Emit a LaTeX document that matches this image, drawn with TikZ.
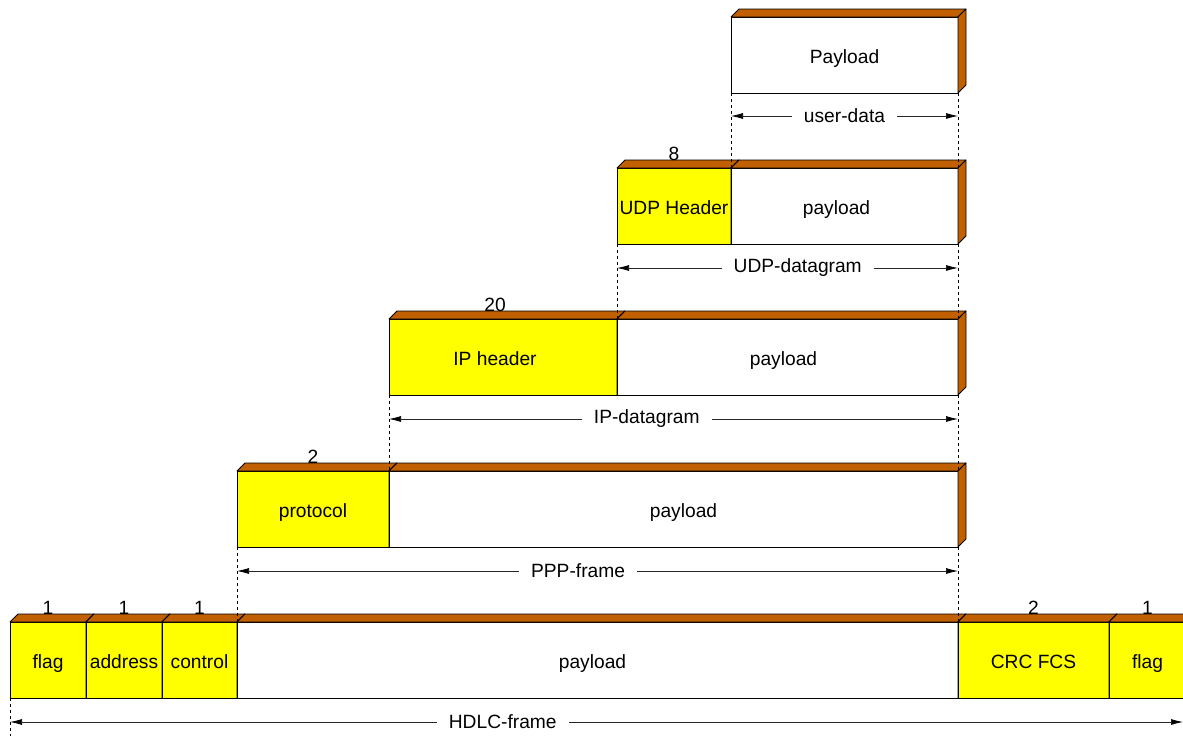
\documentclass[tikz,border=0pt]{standalone}
\usepackage{fontspec}
\setmainfont{Liberation Sans}
\usetikzlibrary{arrows.meta}

\definecolor{lidbrown}{RGB}{192,96,0}
\definecolor{hdryellow}{RGB}{255,255,0}

\tikzset{
  txt/.style={font=\fontsize{19.2}{23}\selectfont},
  segcell/.style={txt, draw=black, line width=0.8pt, anchor=north west,
    minimum height=76pt, inner sep=0pt, outer sep=0pt,
    text height=16pt, text depth=0pt},
  lid/.style={fill=lidbrown, draw=black, line width=0.8pt, line join=round},
  sizelbl/.style={txt, anchor=base, inner sep=0pt},
  guide/.style={line width=0.7pt, dash pattern=on 3pt off 3pt},
  dim/.style={line width=0.7pt, draw=black!85,
    {Latex[length=12pt,width=6pt,black]}-{Latex[length=12pt,width=6pt,black]}},
  dimlbl/.style={txt, fill=white, inner xsep=12pt, inner ysep=2pt}
}

% one field of a frame: front face as a node, plus lid and side face
% [#1] horizontal text offset (pt), #2 name, #3 left x, #4 right x,
% #5 top y, #6 fill, #7 text
\newcommand\segbox[7][0]{%
  \node[segcell, fill=#6, minimum width={(#4-#3)*1pt}] (#2) at (#3,#5)
    {\hspace*{#1pt}\hspace*{#1pt}#7};
  \filldraw[lid] (#2.north west) -- ++(8pt,8pt)
    -- ([shift={(8pt,8pt)}]#2.north east) -- (#2.north east) -- cycle;
  \filldraw[lid] (#2.north east) -- ([shift={(8pt,8pt)}]#2.north east)
    -- ([shift={(8pt,8pt)}]#2.south east) -- (#2.south east) -- cycle;
}

\begin{document}
\begin{tikzpicture}[x=1pt,y=-1pt]
\useasboundingbox (0,0) rectangle (1183,736);
\clip (0,0) rectangle (1183,736);

% application data
\segbox{pay}{731}{958}{17}{white}{Payload}

% UDP datagram
\segbox{udpH}{617}{731}{168}{hdryellow}{UDP Header}
\segbox[-8]{udpP}{731}{958}{168}{white}{payload}
\node[sizelbl] at ([yshift=8pt]udpH.north) {8};

% IP datagram
\segbox[-8]{ipH}{389}{617}{319}{hdryellow}{IP header}
\segbox[-4]{ipP}{617}{958}{319}{white}{payload}
\node[sizelbl] at ([xshift=-8pt,yshift=8pt]ipH.north) {20};

% PPP frame
\segbox{pppH}{237}{389}{471}{hdryellow}{protocol}
\segbox[10]{pppP}{389}{958}{471}{white}{payload}
\node[sizelbl] at ([yshift=8pt]pppH.north) {2};

% HDLC frame
\segbox{flagA}{10}{86}{622}{hdryellow}{flag}
\segbox{addr}{86}{162}{622}{hdryellow}{address}
\segbox{ctrl}{162}{237}{622}{hdryellow}{control}
\segbox[-5]{hdlcP}{237}{958}{622}{white}{payload}
\segbox{crc}{958}{1109}{622}{hdryellow}{CRC FCS}
\segbox{flagB}{1109}{1186}{622}{hdryellow}{flag}
\node[sizelbl] at ([yshift=8pt]flagA.north) {1};
\node[sizelbl] at ([yshift=8pt]addr.north) {1};
\node[sizelbl] at ([yshift=8pt]ctrl.north) {1};
\node[sizelbl] at ([yshift=8pt]crc.north) {2};
\node[sizelbl] at ([yshift=8pt]flagB.north) {1};

% guide lines between the layers
\draw[guide] (pay.south west) -- (udpP.north west);
\draw[guide] (pay.south east) -- (udpP.north east);
\draw[guide] (udpH.south west) -- (ipP.north west);
\draw[guide] (udpP.south east) -- (ipP.north east);
\draw[guide] (ipH.south west) -- (pppP.north west);
\draw[guide] (ipP.south east) -- (pppP.north east);
\draw[guide] (pppH.south west) -- (hdlcP.north west);
\draw[guide] (pppP.south east) -- (hdlcP.north east);
\draw[guide] (flagA.south west) -- ++(0pt,-40pt);

% extents
\draw[dim] ([yshift=-23pt]pay.south west) -- ([yshift=-23pt]pay.south east)
  node[dimlbl, pos=0.5] {user-data};
\draw[dim] ([yshift=-24pt]udpH.south west) -- ([yshift=-24pt]udpP.south east)
  node[dimlbl, pos=0.53] {UDP-datagram};
\draw[dim] ([yshift=-24pt]ipH.south west) -- ([yshift=-24pt]ipP.south east)
  node[dimlbl, pos=0.453] {IP-datagram};
\draw[dim] ([yshift=-24pt]pppH.south west) -- ([yshift=-24pt]pppP.south east)
  node[dimlbl, pos=0.473] {PPP-frame};
\draw[dim, shorten >=3pt] ([yshift=-24pt]flagA.south west) -- ([yshift=-24pt]flagB.south east)
  node[dimlbl, pos=0.419] {HDLC-frame};
\end{tikzpicture}
\end{document}
